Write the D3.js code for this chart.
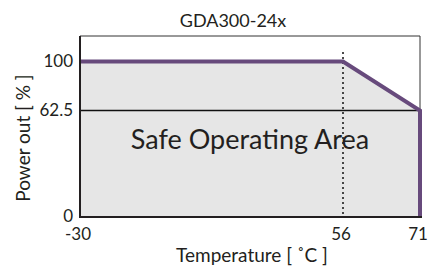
<!DOCTYPE html>
<html>
<head>
<meta charset="utf-8">
<script src="https://cdn.jsdelivr.net/npm/d3@7"></script>
<style>
  body { margin: 0; background: #fff; }
  text { font-family: Lato, "Open Sans", sans-serif; fill: #231f20; }
</style>
</head>
<body>
<svg id="chart" width="432" height="268"></svg>
<script>
// derating curve
var temps = [-30, 56, 71, 71];
var power = [100, 100, 62.5, 0];
var xTicks = [-30, 56, 71];
var yTicks = [0, 62.5, 100];
var kneeTemp = 56;
var title = "GDA300-24x";

var svg = d3.select("#chart");

// the datasheet drawing is not to scale, so piecewise scales
var x = d3.scaleLinear().domain([-30, 56, 71]).range([80, 343, 420]);
var y = d3.scaleLinear().domain([0, 62.5, 100]).range([217, 110.5, 61.5]);
var frameTop = 36;

var data = temps.map(function(t, i){ return {t: t, p: power[i]}; });

// grey area under the curve
var area = d3.area()
	.x(function(d){ return x(d.t); })
	.y0(y(0))
	.y1(function(d){ return y(d.p); });

svg.append("path")
	.datum(data)
	.attr("d", area)
	.attr("fill", "#e6e6e6");

// frame top / right
svg.append("path")
	.attr("d", "M" + x(-30) + "," + frameTop + "H" + x(71) + "V" + y(0))
	.attr("fill", "none")
	.attr("stroke", "#333")
	.attr("stroke-width", 1);

// 62.5 line
svg.append("line")
	.attr("x1", x(-30)).attr("x2", x(71))
	.attr("y1", y(62.5)).attr("y2", y(62.5))
	.attr("stroke", "#111")
	.attr("stroke-width", 1.5);

// dotted knee line
svg.append("line")
	.attr("x1", x(kneeTemp)).attr("x2", x(kneeTemp))
	.attr("y1", 52).attr("y2", y(0))
	.attr("stroke", "#111")
	.attr("stroke-width", 1.5)
	.attr("stroke-dasharray", "2,3");

// curve
var line = d3.line()
	.x(function(d){ return x(d.t); })
	.y(function(d){ return y(d.p); });

svg.append("path")
	.datum(data)
	.attr("d", line)
	.attr("fill", "none")
	.attr("stroke", "#674a7c")
	.attr("stroke-width", 4);

// axes lines
svg.append("path")
	.attr("d", "M" + x(-30) + "," + frameTop + "V" + y(0) + "H" + (x(71) + 2))
	.attr("fill", "none")
	.attr("stroke", "#231f20")
	.attr("stroke-width", 2);

// y tick labels
svg.append("g").selectAll("text")
	.data(yTicks)
	.enter().append("text")
	.attr("x", 73)
	.attr("y", function(d){ return y(d); })
	.attr("dy", "0.3em")
	.attr("text-anchor", "end")
	.attr("font-size", 17)
	.text(function(d){ return d; });

// x tick labels
svg.append("g").selectAll("text")
	.data(xTicks)
	.enter().append("text")
	.attr("x", function(d){ return x(d) - 2; })
	.attr("y", 240)
	.attr("text-anchor", "middle")
	.attr("font-size", 17)
	.text(function(d){ return d; });

svg.append("text")
	.attr("x", 233).attr("y", 27)
	.attr("text-anchor", "middle")
	.attr("font-size", 18)
	.text(title);

svg.append("text")
	.attr("x", 250).attr("y", 149)
	.attr("text-anchor", "middle")
	.attr("font-size", 27)
	.text("Safe Operating Area");

svg.append("text")
	.attr("x", 252).attr("y", 262)
	.attr("text-anchor", "middle")
	.attr("font-size", 19)
	.text("Temperature [ \u02DAC ]");

svg.append("text")
	.attr("transform", "translate(30,138) rotate(-90)")
	.attr("text-anchor", "middle")
	.attr("font-size", 19)
	.text("Power out [ % ]");
</script>
</body>
</html>
